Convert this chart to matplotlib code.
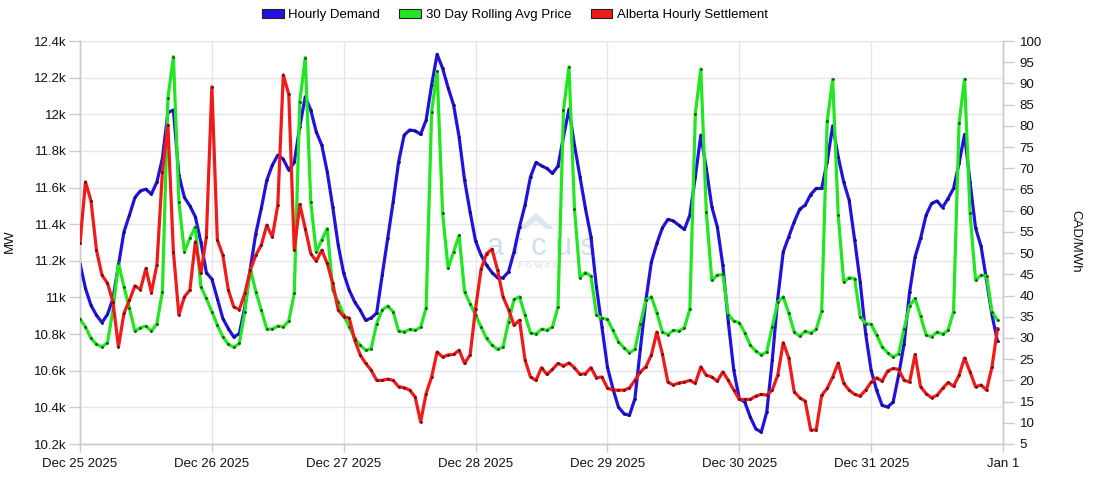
import numpy as np
import pandas as pd
import matplotlib
matplotlib.use("Agg")
import matplotlib.pyplot as plt
import matplotlib.dates as mdates
from matplotlib.patches import Patch, Polygon

plt.rcParams['font.family'] = ['Liberation Sans', 'DejaVu Sans']

# ---------------- data ----------------
start = "2025-12-25 00:00"
hours = pd.date_range(start, periods=168, freq="h")

demand = [
    11185, 11049, 10957, 10903, 10863, 10907, 10994, 11176, 11358, 11449, 11546, 11582,
    11591, 11564, 11631, 11759, 12010, 12023, 11668, 11546, 11500, 11440, 11303, 11136,
    11100, 10994, 10885, 10830, 10784, 10803, 10948, 11158, 11349, 11486, 11640, 11722,
    11777, 11755, 11695, 11737, 11932, 12096, 12023, 11904, 11832, 11686, 11495, 11285,
    11131, 11040, 10975, 10930, 10875, 10888, 10915, 11121, 11322, 11522, 11741, 11886,
    11914, 11910, 11890, 11968, 12160, 12327, 12251, 12145, 12050, 11877, 11640, 11467,
    11308, 11231, 11176, 11136, 11107, 11107, 11140, 11249, 11386, 11504, 11659, 11737,
    11719, 11704, 11677, 11717, 11877, 12028, 11832, 11659, 11486, 11331, 11058, 10839,
    10620, 10502, 10402, 10366, 10356, 10447, 10721, 10985, 11194, 11295, 11380, 11426,
    11418, 11394, 11371, 11449, 11659, 11886, 11704, 11495, 11386, 11176, 10866, 10602,
    10447, 10429, 10347, 10283, 10265, 10374, 10656, 10994, 11249, 11331, 11413, 11482,
    11504, 11562, 11595, 11595, 11741, 11937, 11768, 11631, 11531, 11313, 11085, 10803,
    10602, 10493, 10411, 10402, 10429, 10575, 10748, 11030, 11222, 11322, 11449, 11513,
    11527, 11491, 11540, 11595, 11732, 11890, 11631, 11380, 11280, 11094, 10903, 10761,
]

rolling_avg_price = [
    34.4, 32.6, 29.9, 28.5, 27.9, 28.9, 36.6, 47.6, 42.1, 37.0, 31.6, 32.4,
    32.8, 31.6, 33.4, 40.9, 86.5, 96.3, 62.1, 50.3, 53.5, 56.2, 42.1, 39.3,
    36.2, 33.0, 30.3, 28.5, 27.8, 28.7, 36.2, 46.4, 40.9, 36.6, 32.1, 32.1,
    32.8, 32.6, 34.0, 40.5, 85.7, 96.1, 62.1, 50.2, 53.1, 55.8, 41.3, 38.5,
    35.4, 32.6, 29.9, 28.3, 27.1, 27.5, 33.4, 36.6, 37.5, 36.2, 31.6, 31.4,
    32.0, 31.8, 32.5, 37.1, 83.3, 92.9, 59.4, 46.4, 50.3, 54.2, 40.9, 38.1,
    35.4, 32.6, 29.9, 28.3, 27.3, 27.9, 33.8, 39.1, 39.7, 35.4, 31.2, 30.9,
    32.1, 31.8, 32.6, 37.3, 83.7, 93.9, 60.5, 44.2, 45.4, 44.6, 35.5, 34.6,
    34.4, 31.8, 29.1, 27.7, 26.5, 27.3, 33.4, 38.9, 39.7, 35.9, 31.4, 30.8,
    31.8, 31.6, 32.4, 36.8, 82.9, 93.4, 59.7, 43.6, 44.8, 45.0, 35.5, 34.0,
    33.6, 31.2, 28.3, 26.9, 26.0, 26.7, 32.6, 38.5, 39.7, 35.9, 31.4, 30.4,
    31.6, 31.1, 32.0, 36.3, 81.1, 91.0, 59.1, 43.2, 44.2, 44.0, 35.0, 33.4,
    33.2, 30.7, 27.9, 26.5, 25.5, 26.3, 32.2, 37.6, 39.3, 35.1, 30.7, 30.3,
    31.4, 30.9, 31.8, 36.2, 80.6, 91.0, 59.4, 43.6, 44.8, 44.6, 36.2, 34.2,
]

settlement = [
    52.3, 66.8, 62.3, 50.7, 44.8, 42.9, 38.5, 27.9, 35.8, 38.9, 42.3, 41.4,
    46.4, 40.7, 47.3, 69.2, 80.2, 50.3, 35.4, 39.7, 41.3, 52.7, 45.2, 53.8,
    89.2, 53.1, 49.5, 41.3, 37.3, 36.7, 40.5, 46.0, 49.5, 51.9, 56.6, 53.8,
    61.3, 92.0, 87.4, 50.7, 61.5, 55.8, 49.9, 48.1, 50.7, 47.6, 42.9, 36.6,
    35.0, 34.7, 29.5, 26.0, 24.0, 22.4, 20.0, 20.0, 20.3, 20.0, 18.5, 18.3,
    17.7, 16.1, 10.2, 16.9, 20.8, 26.7, 25.5, 26.0, 26.1, 27.1, 24.0, 26.0,
    36.9, 46.2, 49.9, 50.9, 46.0, 39.7, 36.7, 33.0, 34.2, 24.8, 20.8, 20.0,
    23.0, 21.4, 22.6, 24.0, 23.4, 24.1, 23.0, 21.4, 21.6, 23.0, 20.6, 20.8,
    18.2, 17.7, 17.7, 17.7, 18.2, 20.0, 22.0, 23.2, 26.0, 31.4, 26.3, 19.6,
    18.9, 19.4, 19.6, 20.0, 19.3, 23.2, 21.2, 20.8, 19.8, 22.0, 20.0, 17.7,
    15.5, 15.5, 15.5, 16.3, 16.7, 16.5, 17.7, 21.2, 28.9, 25.3, 17.3, 15.9,
    15.1, 8.3, 8.3, 16.5, 18.1, 20.8, 24.1, 19.3, 17.7, 16.7, 16.3, 17.7,
    19.6, 20.6, 19.8, 22.2, 22.8, 22.6, 20.0, 19.6, 26.1, 18.5, 16.9, 15.9,
    16.5, 18.1, 19.5, 18.6, 21.2, 25.3, 22.0, 18.5, 18.9, 17.7, 23.2, 32.2,
]

series_names = ["Hourly Demand", "30 Day Rolling Avg Price", "Alberta Hourly Settlement"]
left_ticks = [10200, 10400, 10600, 10800, 11000, 11200, 11400, 11600, 11800, 12000, 12200, 12400]
left_tick_labels = ["10.2k", "10.4k", "10.6k", "10.8k", "11k", "11.2k", "11.4k", "11.6k",
                    "11.8k", "12k", "12.2k", "12.4k"]
right_ticks = list(range(5, 101, 5))
day_ticks = pd.date_range("2025-12-25", "2026-01-01", freq="D")
day_labels = ["Dec 25 2025", "Dec 26 2025", "Dec 27 2025", "Dec 28 2025",
              "Dec 29 2025", "Dec 30 2025", "Dec 31 2025", "Jan 1"]

# ---------------- style ----------------
BLUE = "#2112df"
GREEN = "#22e622"
RED = "#f01a1a"
GRID = "#e6e6e6"
AXIS = "#cccccc"
FS = 9.5

fig = plt.figure(figsize=(11, 5), dpi=100)
L, R, T, B = 80, 1003, 41, 444
ax = fig.add_axes([L / 1100, 1 - B / 500, (R - L) / 1100, (B - T) / 500])
ax2 = ax.twinx()

ax.set_xlim(day_ticks[0], day_ticks[-1])
ax.set_ylim(10200, 12400)
ax2.set_ylim(5, 100)

# grid
ax.set_axisbelow(True)
ax.grid(True, which="major", axis="both", color=GRID, lw=1.0, zorder=0)

# watermark
wm = "#cfe0ec"
def px(xp, yp):
    return ((xp - L) / (R - L), (B - yp) / (B - T))
tri = Polygon([px(518, 229), px(536, 213), px(554, 229), px(546, 229), px(536, 221), px(526, 229)],
              closed=True, transform=ax.transAxes, facecolor="#dae7f1", edgecolor="none", zorder=1)
ax.add_patch(tri)
ax.text(*px(541, 247), "a r c u s", transform=ax.transAxes, ha="center", va="center",
        fontsize=22, color=wm, zorder=1, family="Liberation Sans")
ax.text(*px(538, 267), "P O W E R", transform=ax.transAxes, ha="center", va="center",
        fontsize=6, color=wm, zorder=1)

# lines
kw = dict(lw=2.3, marker="o", markersize=2.0, markeredgewidth=0, solid_joinstyle="round")
ax.plot(hours, demand, color=BLUE, markerfacecolor="#101060", zorder=3, **kw)
ax2.plot(hours, rolling_avg_price, color=GREEN, markerfacecolor="#105010", zorder=3, **kw)
ax2.plot(hours, settlement, color=RED, markerfacecolor="#601010", zorder=4, **kw)

# ticks
ax.set_yticks(left_ticks)
ax.set_yticklabels(left_tick_labels)
ax.set_xticks(day_ticks)
ax.set_xticklabels(day_labels)
ax.tick_params(axis="y", direction="out", length=8, width=1, color=AXIS, pad=2,
               labelsize=FS, labelcolor="#111111")
ax.tick_params(axis="x", direction="out", length=6, width=1, color=AXIS, pad=4,
               labelsize=FS, labelcolor="#111111")
ax2.set_yticks(right_ticks)
ax2.tick_params(axis="y", direction="out", length=8, width=1, color=AXIS, pad=4,
                labelsize=FS, labelcolor="#111111")

for a in (ax, ax2):
    a.spines["top"].set_visible(False)
    for s in ("left", "right", "bottom"):
        a.spines[s].set_color(AXIS)
        a.spines[s].set_linewidth(1.0)

fig.text(10 / 1100, 1 - 241 / 500, "MW", rotation=90, ha="center", va="center",
         fontsize=FS, color="#111111")
fig.text(1075 / 1100, 1 - 241 / 500, "CAD/MWh", rotation=270, ha="center", va="center",
         fontsize=FS, color="#111111")

handles = [Patch(facecolor=c, edgecolor="#222222", lw=0.8) for c in (BLUE, GREEN, RED)]
fig.legend(handles, series_names, loc="center", bbox_to_anchor=(515 / 1100, 1 - 15 / 500),
           ncol=3, frameon=False, fontsize=FS, handlelength=1.65, handleheight=0.6,
           handletextpad=0.35, columnspacing=1.45)

fig.savefig("out.png", dpi=100, facecolor="white")
